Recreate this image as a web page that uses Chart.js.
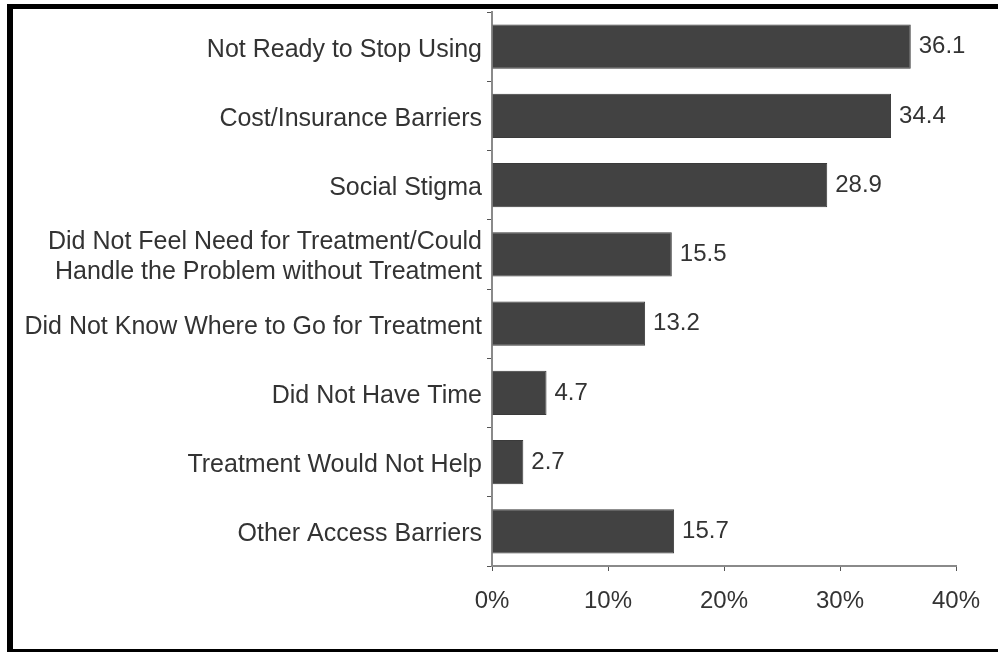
<!DOCTYPE html>
<html>
<head>
<meta charset="utf-8">
<script src="https://cdn.jsdelivr.net/npm/chart.js@4"></script>
<style>
    html, body { margin: 0; padding: 0; background: #fff; }
    #wrap { position: relative; width: 998px; height: 652px; overflow: hidden; }
    #frame {
        position: absolute; left: 7px; top: 4px; width: 1000px; height: 640px;
        border-left: 6px solid #000; border-top: 5px solid #000; border-bottom: 4px solid #000;
    }
    #chart { position: absolute; left: 0; top: 0; }
</style>
</head>
<body>
<div id="wrap">
    <div id="frame"></div>
    <canvas id="chart" width="998" height="652"></canvas>
</div>
<script>
// Razones para no recibir tratamiento (%)
const categories = [
    'Not Ready to Stop Using',
    'Cost/Insurance Barriers',
    'Social Stigma',
    ['Did Not Feel Need for Treatment/Could', 'Handle the Problem without Treatment'],
    'Did Not Know Where to Go for Treatment',
    'Did Not Have Time',
    'Treatment Would Not Help',
    'Other Access Barriers'
];
const values = [36.1, 34.4, 28.9, 15.5, 13.2, 4.7, 2.7, 15.7];
const xTicks = [0, 10, 20, 30, 40];

const FONT = 'Arial, "Liberation Sans", Helvetica, sans-serif';

// Etiquetas de valor al final de cada barra
const valueLabels = {
    id: 'valueLabels',
    afterDatasetsDraw(chart) {
        const ctx = chart.ctx;
        const meta = chart.getDatasetMeta(0);
        ctx.save();
        ctx.font = '24px ' + FONT;
        ctx.fillStyle = '#333';
        ctx.textAlign = 'left';
        ctx.textBaseline = 'middle';
        meta.data.forEach((bar, i) => {
            ctx.fillText(values[i].toFixed(1), bar.x + 8, bar.y);
        });
        ctx.restore();
    }
};

new Chart(document.getElementById('chart').getContext('2d'), {
    type: 'bar',
    data: {
        labels: categories,
        datasets: [{
            data: values,
            backgroundColor: '#424242',
            borderColor: '#3a3a3a',
            borderWidth: 1,
            categoryPercentage: 1,
            barPercentage: 0.64
        }]
    },
    options: {
        indexAxis: 'y',
        responsive: false,
        animation: false,
        events: [],
        layout: { padding: { top: 12, right: 42, left: 0, bottom: 0 } },
        plugins: {
            legend: { display: false },
            tooltip: { enabled: false }
        },
        scales: {
            x: {
                min: 0,
                max: 40,
                afterBuildTicks: (scale) => { scale.ticks = xTicks.map(v => ({ value: v })); },
                afterFit: (scale) => { scale.height = 86; },
                grid: { drawOnChartArea: false, drawTicks: true, tickLength: 5, color: '#555' },
                border: { display: true, color: '#8a8a8a', width: 2 },
                ticks: {
                    callback: (v) => v + '%',
                    font: { family: FONT, size: 24 },
                    color: '#333',
                    padding: 16,
                    maxRotation: 0
                }
            },
            y: {
                afterFit: (scale) => {
                    scale.width = 492;
                    scale.paddingTop = 0;
                    scale.paddingBottom = 0;
                },
                grid: { drawOnChartArea: false, drawTicks: true, tickLength: 5, color: '#555', offset: true },
                border: { display: true, color: '#8a8a8a', width: 2 },
                ticks: {
                    font: { family: FONT, size: 25, lineHeight: 1.2 },
                    color: '#333',
                    padding: 5,
                    labelOffset: 3,
                    autoSkip: false
                }
            }
        }
    },
    plugins: [valueLabels]
});
</script>
</body>
</html>
